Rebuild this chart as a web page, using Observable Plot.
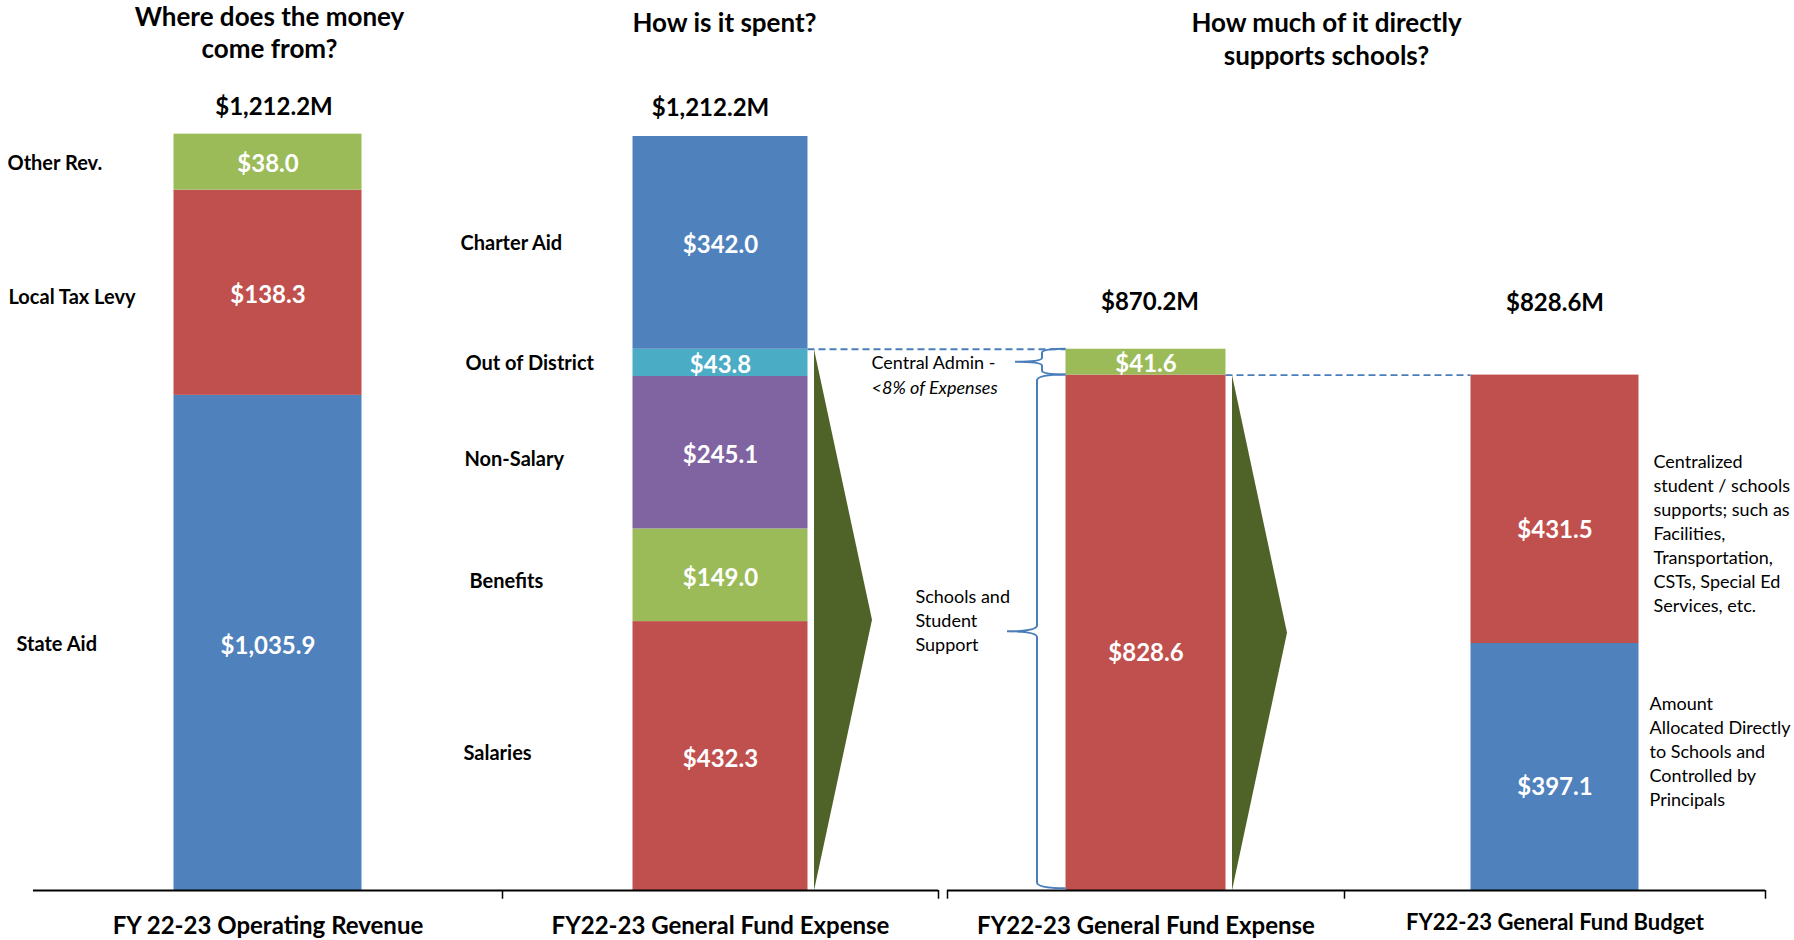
<!DOCTYPE html>
<html><head><meta charset="utf-8">
<script src="https://cdn.jsdelivr.net/npm/d3@7"></script>
<script src="https://cdn.jsdelivr.net/npm/@observablehq/plot@0.6"></script>
<style>html,body{margin:0;padding:0;background:#fff;overflow:hidden}#chart svg{display:block}</style>
</head><body><div id="chart"></div>
<script>
// ================= DATA =================
const columnLabels = ["FY 22-23 Operating Revenue", "FY22-23 General Fund Expense", "FY22-23 General Fund Expense", "FY22-23 General Fund Budget"];
const columnTotals = [1212.2, 1212.2, 870.2, 828.6];
const titleLines = [["Where does the money", "come from?"], ["How is it spent?"], ["How much of it directly", "supports schools?"]];

const revenueCategories = ["State Aid", "Local Tax Levy", "Other Rev."];
const revenueValues = [1035.9, 138.3, 38.0];
// heights the segments are drawn with in the reference (that bar is not to scale)
const revenueDrawnHeights = [796, 330, 90];

const expenseCategories = ["Salaries", "Benefits", "Non-Salary", "Out of District", "Charter Aid"];
const expenseValues = [432.3, 149.0, 245.1, 43.8, 342.0];

const supportCategories = ["Schools and Student Support", "Central Admin"];
const supportValues = [828.6, 41.6];

const budgetCategories = ["Allocated Directly to Schools", "Centralized Supports"];
const budgetValues = [397.1, 431.5];

const supportNotes = [["Central Admin -"], ["Schools and", "Student", "Support"]];
const adminNote = "<8% of Expenses";
const budgetNotes = [["Amount", "Allocated Directly", "to Schools and", "Controlled by", "Principals"],
                     ["Centralized", "student / schools", "supports; such as", "Facilities,", "Transportation,", "CSTs, Special Ed", "Services, etc."]];

// ================= LAYOUT / STYLE =================
const C = {blue: "#4F81BD", red: "#C0504D", green: "#9BBB59", purple: "#8064A2", teal: "#4BACC6", olive: "#4F6228", line: "#4A7EBB"};
const FONT = "Lato, 'Open Sans', sans-serif";
const W = 1794, H = 940, BASE = 890, PPU = 0.622; // px per $M
const yv = py => (BASE - py) / PPU; // pixel row -> value
const bands = [[33, 502], [502, 938], [947, 1344], [1344, 1765]];
const axes = [{x1: 33, x2: 938}, {x1: 947, x2: 1765}];
const tickXs = [502, 938, 947, 1344, 1765];
const barW = [188, 175, 160, 168];
const center = i => (bands[i][0] + bands[i][1]) / 2;
const left = i => center(i) - barW[i] / 2;
const right = i => center(i) + barW[i] / 2;
const segColors = [[C.blue, C.red, C.green], [C.red, C.green, C.purple, C.teal, C.blue], [C.red, C.green], [C.blue, C.red]];
const valueDy = [[3, 3, 2], [3, 3, 3, 2, 2], [21, 2], [20, 21]];
const catLabelX = [[16, 8, 7], [463, 469, 464, 465, 460]];
const catDy = [[2, 5, 1], [-2, 6, 7, 1, 1]];
const totalDy = [-27, -28, -47, -72];
const totalDx = [6, -10, 4, 0];

// ================= BUILD =================
const fmt = d3.format("$,.1f");
function stackCol(col, cats, values, heights) {
  let acc = 0;
  return cats.map((c, i) => {
    const h = heights ? heights[i] : values[i];
    const s = {col, i, cat: c, value: values[i], y1: acc, y2: acc + h, fill: segColors[col][i]};
    acc += h;
    return s;
  });
}
const cols = [
  stackCol(0, revenueCategories, revenueValues, revenueDrawnHeights),
  stackCol(1, expenseCategories, expenseValues),
  stackCol(2, supportCategories, supportValues),
  stackCol(3, budgetCategories, budgetValues)
];
const segs = cols.flat();
const colTop = cols.map(c => c[c.length - 1].y2);

const valueMarks = segs.map(s =>
  Plot.text([s], {x: s => center(s.col), y: s => (s.y1 + s.y2) / 2, text: s => fmt(s.value),
    fill: "white", fontSize: 24, fontWeight: 700, fontFamily: FONT, dy: valueDy[s.col][s.i]}));

const catMarks = segs.filter(s => s.col < 2).map(s =>
  Plot.text([s], {x: s => catLabelX[s.col][s.i], y: s => (s.y1 + s.y2) / 2, text: "cat", textAnchor: "start",
    fill: "black", fontSize: 20, fontWeight: 700, fontFamily: FONT, dy: catDy[s.col][s.i]}));

const totalsData = columnTotals.map((t, i) => ({i, t}));

const outTop = cols[1][3].y2; // top of "Out of District" = total of support column
const tri = [
  {id: 1, pts: [[right(1) + 6, outTop], [right(1) + 64, outTop / 2], [right(1) + 6, 0]]},
  {id: 2, pts: [[right(2) + 6, cols[2][0].y2], [right(2) + 61, cols[2][0].y2 / 2], [right(2) + 6, 0]]}
];
const triPts = tri.flatMap(t => t.pts.map(p => ({id: t.id, x: p[0], y: p[1]})));

const dashed = [
  {x1: right(1), x2: left(2), y: outTop},
  {x1: right(2), x2: left(3), y: cols[2][0].y2}
];

const braces = [
  {xr: left(2), xs: 1042, xt: 1015, top: cols[2][1].y2, bottom: cols[2][1].y1, r: 4},
  {xr: left(2), xs: 1037, xt: 1007, top: cols[2][0].y2, bottom: cols[2][0].y1 + 3, r: 6}
];
function braceMark(index, scales) {
  const {x, y} = scales;
  const g = d3.create("svg:g");
  for (const b of braces) {
    const xr = x(b.xr), xs = x(b.xs), xt = x(b.xt);
    const yt = y(b.top), yb = y(b.bottom), ym = (yt + yb) / 2, r = b.r;
    const p = d3.path();
    p.moveTo(xr, yt);
    p.quadraticCurveTo(xs, yt, xs, yt + r);
    p.lineTo(xs, ym - r);
    p.quadraticCurveTo(xs, ym, xt, ym);
    p.quadraticCurveTo(xs, ym, xs, ym + r);
    p.lineTo(xs, yb - r);
    p.quadraticCurveTo(xs, yb, xr, yb);
    g.append("path").attr("d", p.toString()).attr("fill", "none").attr("stroke", C.line).attr("stroke-width", 2);
  }
  return g.node();
}

// pixel-placed text lines
function lines(arr, x, py, lh) { return arr.map((t, k) => ({t, x, py: py + k * lh})); }
const titleData = [
  ...lines(titleLines[0], 269, 17, 32),
  ...lines(titleLines[1], 724, 23, 32),
  ...lines(titleLines[2], 1326, 23, 33)
];
const noteData = [
  ...lines(supportNotes[0], 871, 363, 24),
  ...lines(supportNotes[1], 915, 597, 24),
  ...lines(budgetNotes[0], 1649, 704, 24),
  ...lines(budgetNotes[1], 1653, 462, 24)
];
const footData = columnLabels.map((t, i) => ({t, i}));

function build(withBraces) {
  const marks = [
    Plot.rect(segs, {x1: s => left(s.col), x2: s => right(s.col), y1: "y1", y2: "y2", fill: "fill"}),
    Plot.line(triPts, {x: "x", y: "y", z: "id", fill: C.olive, stroke: "none", curve: "linear-closed"}),
    Plot.ruleY(dashed, {x1: "x1", x2: "x2", y: "y", stroke: C.line, strokeWidth: 1.8, strokeDasharray: "7,4"}),
    Plot.ruleY(axes, {x1: "x1", x2: "x2", y: () => 0, stroke: "black", strokeWidth: 2}),
    Plot.ruleX(tickXs, {x: d => d, y1: () => 0, y2: () => -14, stroke: "black", strokeWidth: 1.5}),
    ...valueMarks,
    ...catMarks,
    ...totalsData.map(d => Plot.text([d], {x: d => center(d.i), y: d => colTop[d.i], text: d => fmt(d.t) + "M",
      dx: totalDx[d.i], dy: totalDy[d.i], fill: "black", fontSize: 24, fontWeight: 700, fontFamily: FONT})),
    Plot.text(titleData, {x: "x", y: d => yv(d.py), text: "t", fill: "black", fontSize: 26, fontWeight: 700, fontFamily: FONT}),
    Plot.text(noteData, {x: "x", y: d => yv(d.py), text: "t", textAnchor: "start", fill: "black", fontSize: 18, fontFamily: FONT}),
    Plot.text([adminNote], {x: () => 871, y: () => yv(388), text: d => d, textAnchor: "start", fill: "black", fontSize: 18, fontStyle: "italic", fontFamily: FONT}),
    Plot.text(footData.slice(0, 3), {x: d => center(d.i), y: () => yv(926), text: "t", fill: "black", fontSize: 24, fontWeight: 700, fontFamily: FONT}),
    Plot.text(footData.slice(3), {x: d => center(d.i), y: () => yv(922), text: "t", fill: "black", fontSize: 22, fontWeight: 700, fontFamily: FONT})
  ];
  if (withBraces) marks.push(braceMark);
  return Plot.plot({
    width: W, height: H, marginTop: 0, marginRight: 0, marginBottom: H - BASE, marginLeft: 0,
    x: {type: "linear", domain: [0, W], range: [0, W], axis: null},
    y: {type: "linear", domain: [0, yv(0)], range: [BASE, 0], axis: null},
    style: {fontFamily: FONT, background: "white", overflow: "visible"},
    marks
  });
}
let svg;
try { svg = build(true); } catch (e) { console.error(e); svg = build(false); }
document.getElementById("chart").appendChild(svg);
</script>
</body></html>
